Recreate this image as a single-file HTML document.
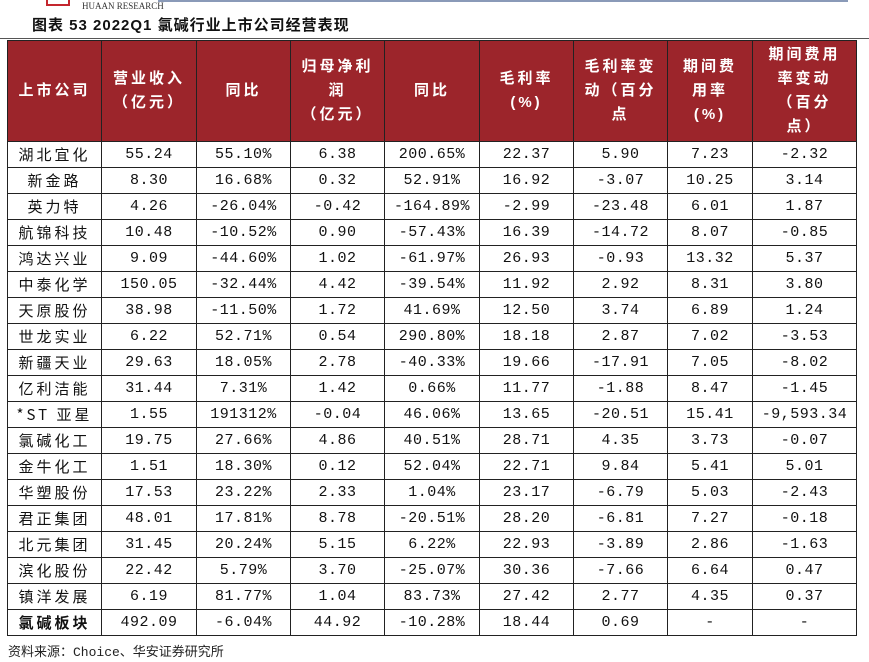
<!DOCTYPE html>
<html><head><meta charset="utf-8">
<style>
body{margin:0;width:869px;height:662px;background:#fff;position:relative;overflow:hidden;font-family:"Liberation Sans","Noto Sans CJK SC",sans-serif;}
.logo{position:absolute;left:46px;top:0;width:24px;height:6px;border:2px solid #c4262e;border-top:none;box-sizing:border-box}
.brand{position:absolute;left:82px;top:1px;font-family:"Liberation Serif",serif;font-size:9px;color:#333}
.topbar{position:absolute;left:158px;top:0;width:690px;height:2px;background:#8a9ab8}
.title{position:absolute;left:32px;top:14px;font-size:15px;font-weight:bold;color:#111;font-family:"Liberation Sans","Noto Sans CJK SC",sans-serif;letter-spacing:1px}
.rule{position:absolute;left:0;top:38px;width:869px;height:1px;background:#555}
table{position:absolute;left:7px;top:40px;border-collapse:collapse;table-layout:fixed}
td,th{border:1px solid #222;text-align:center;padding:0;font-size:15px;font-family:"Liberation Mono","Noto Sans CJK SC",monospace;letter-spacing:0.5px;color:#111;height:25px;white-space:nowrap}
th{background:#9c252b;color:#fff;font-weight:bold;height:100px;line-height:24px;white-space:normal;letter-spacing:3px;font-family:"Liberation Sans","Noto Sans CJK SC",sans-serif}
td.n{letter-spacing:2px;font-family:"Liberation Sans","Noto Sans CJK SC",sans-serif}
.src{position:absolute;left:8px;top:641px;font-size:13px;color:#222;font-family:"Liberation Mono","Noto Sans CJK SC",monospace}
</style></head><body>
<div class="logo"></div>
<div class="brand">HUAAN RESEARCH</div>
<div class="topbar"></div>
<div class="title">图表 53 2022Q1 氯碱行业上市公司经营表现</div>
<div class="rule"></div>
<table>
<colgroup><col style="width:94px"><col style="width:95px"><col style="width:94px"><col style="width:94px"><col style="width:95px"><col style="width:94px"><col style="width:94px"><col style="width:85px"><col style="width:104px"></colgroup>
<tr>
<th>上市公司</th>
<th>营业收入<br>（亿元）</th>
<th>同比</th>
<th>归母净利<br>润<br>（亿元）</th>
<th>同比</th>
<th>毛利率<br>(%)</th>
<th>毛利率变<br>动（百分<br>点</th>
<th>期间费<br>用率<br>(%)</th>
<th>期间费用<br>率变动<br>（百分<br>点）</th>
</tr>
<tbody id="tb"></tbody>
</table>
<div class="src">资料来源：Choice、华安证券研究所</div>
<script>
const companies=["湖北宜化","新金路","英力特","航锦科技","鸿达兴业","中泰化学","天原股份","世龙实业","新疆天业","亿利洁能","*ST 亚星","氯碱化工","金牛化工","华塑股份","君正集团","北元集团","滨化股份","镇洋发展","氯碱板块"];
const revenue=["55.24","8.30","4.26","10.48","9.09","150.05","38.98","6.22","29.63","31.44","1.55","19.75","1.51","17.53","48.01","31.45","22.42","6.19","492.09"];
const revenueYoy=["55.10%","16.68%","-26.04%","-10.52%","-44.60%","-32.44%","-11.50%","52.71%","18.05%","7.31%","191312%","27.66%","18.30%","23.22%","17.81%","20.24%","5.79%","81.77%","-6.04%"];
const netProfit=["6.38","0.32","-0.42","0.90","1.02","4.42","1.72","0.54","2.78","1.42","-0.04","4.86","0.12","2.33","8.78","5.15","3.70","1.04","44.92"];
const profitYoy=["200.65%","52.91%","-164.89%","-57.43%","-61.97%","-39.54%","41.69%","290.80%","-40.33%","0.66%","46.06%","40.51%","52.04%","1.04%","-20.51%","6.22%","-25.07%","83.73%","-10.28%"];
const grossMargin=["22.37","16.92","-2.99","16.39","26.93","11.92","12.50","18.18","19.66","11.77","13.65","28.71","22.71","23.17","28.20","22.93","30.36","27.42","18.44"];
const gmChange=["5.90","-3.07","-23.48","-14.72","-0.93","2.92","3.74","2.87","-17.91","-1.88","-20.51","4.35","9.84","-6.79","-6.81","-3.89","-7.66","2.77","0.69"];
const expRatio=["7.23","10.25","6.01","8.07","13.32","8.31","6.89","7.02","7.05","8.47","15.41","3.73","5.41","5.03","7.27","2.86","6.64","4.35","-"];
const expChange=["-2.32","3.14","1.87","-0.85","5.37","3.80","1.24","-3.53","-8.02","-1.45","-9,593.34","-0.07","5.01","-2.43","-0.18","-1.63","0.47","0.37","-"];
const tb=document.getElementById('tb');
companies.forEach((c,i)=>{
  const tr=document.createElement('tr');
  
  
  const vals=[c,revenue[i],revenueYoy[i],netProfit[i],profitYoy[i],grossMargin[i],gmChange[i],expRatio[i],expChange[i]];
  vals.forEach((v,j)=>{
    const td=document.createElement('td');
    
    
    td.textContent=v.replace(/-/g,'−'.length?'-':'-');
    if(j===0){td.style.letterSpacing='3px';td.style.fontFamily='"Noto Sans CJK SC",sans-serif';}
    if(i===companies.length-1&&j===0)td.style.fontWeight='bold';
    tr.appendChild(td);
  });
  tb.appendChild(tr);
});
</script>
</body></html>
